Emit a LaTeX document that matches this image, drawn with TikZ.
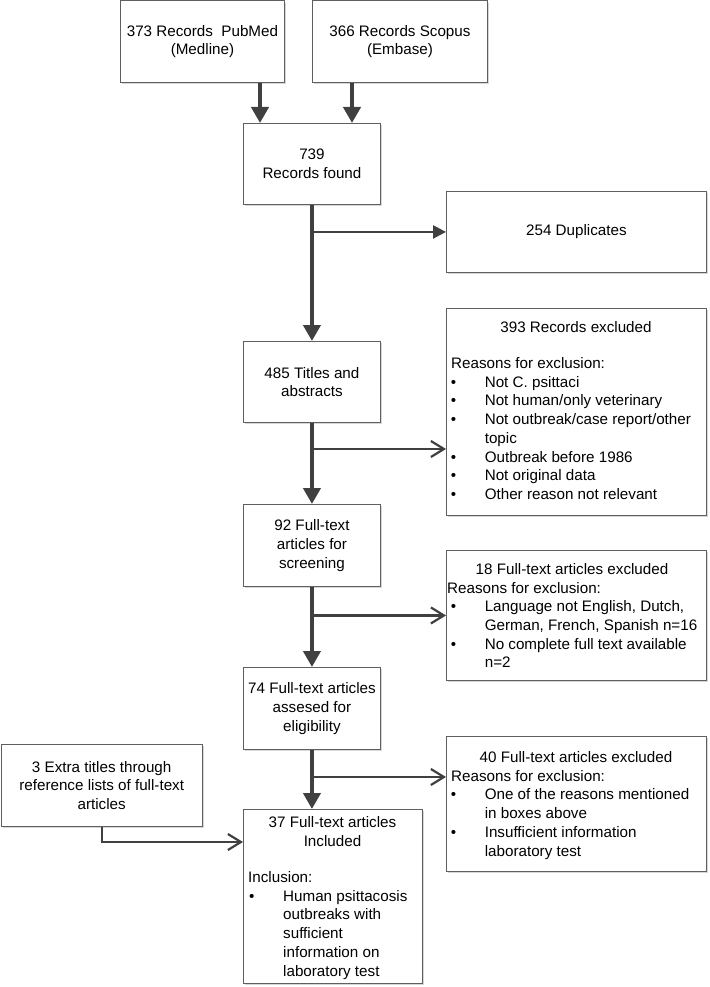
\documentclass[tikz,border=0pt]{standalone}
\usepackage{fontspec}
\setmainfont{Liberation Sans}
\usetikzlibrary{arrows.meta,shadows}
\definecolor{boxline}{HTML}{5F5F5F}
\definecolor{arrowc}{HTML}{404040}
\newcommand\bulmark{\makebox[34pt][l]{\textbullet}}
\begin{document}
\begin{tikzpicture}[x=1pt,y=-1pt,
  font=\fontsize{15.2}{18.7}\selectfont,
  box/.style={draw=boxline, line width=0.9pt, fill=white, inner sep=0pt,
    anchor=north west, align=center,
    drop shadow={shadow xshift=1.8pt, shadow yshift=-1.8pt, opacity=0.22, fill=black!70}},
  txt/.style={anchor=base west, inner sep=0pt},
  ctxt/.style={anchor=base, inner sep=0pt},
  thickarr/.style={draw=arrowc, line width=4.5pt, -{Triangle[width=17pt,length=16pt]}},
  duparr/.style={draw=arrowc, line width=2.4pt, -{Triangle[width=13pt,length=13pt]}},
  openarr/.style={draw=arrowc, line width=2.2pt, -{Straight Barb[width=16pt,length=13pt]}}]
\path[fill=white] (0,0) rectangle (709,987);
\useasboundingbox (0,0) rectangle (709,987);

% boxes
\node[box, minimum width=164pt, minimum height=81.5pt] (A) at (120,0.5) {373 Records \ PubMed\\(Medline)};
\node[box, minimum width=175pt, minimum height=81.5pt] (B) at (312,0.5) {366 Records Scopus\\(Embase)};
\node[box, minimum width=137pt, minimum height=81pt] (C) at (243,123) {739\\Records found};
\node[box, minimum width=260pt, minimum height=81pt] (Dup) at (446,191) {254 Duplicates};
\node[box, minimum width=137pt, minimum height=81pt] (T) at (243,341) {485 Titles and\\abstracts};
\node[box, minimum width=260pt, minimum height=207pt] (R) at (446,308) {};
\node[box, minimum width=137pt, minimum height=82pt] (S) at (243,504) {92 Full-text\\articles for\\screening};
\node[box, minimum width=260pt, minimum height=130pt] (E18) at (446,550) {};
\node[box, minimum width=137pt, minimum height=82pt] (F) at (243,667) {74 Full-text articles\\assesed for\\eligibility};
\node[box, minimum width=260pt, minimum height=135pt] (E40) at (446,736) {};
\node[box, minimum width=201.5pt, minimum height=82pt] (X) at (0.5,744) {3 Extra titles through\\reference lists of full-text\\articles};
\node[box, minimum width=179pt, minimum height=174pt] (I) at (243,809) {};

% 393 box text
\node[ctxt] (r0) at (576,332.5) {393 Records excluded};
\node[txt] (r1) at (451,368.5) {Reasons for exclusion:};
\node[txt] (r2) at (450.6,387.2) {\bulmark Not C. psittaci};
\node[txt] (r3) at (450.6,405.9) {\bulmark Not human/only veterinary};
\node[txt] (r4) at (450.6,424.6) {\bulmark Not outbreak/case report/other};
\node[txt] (r5) at (484.6,443.3) {topic};
\node[txt] (r6) at (450.6,462.0) {\bulmark Outbreak before 1986};
\node[txt] (r7) at (450.6,480.7) {\bulmark Not original data};
\node[txt] (r8) at (450.6,499.4) {\bulmark Other reason not relevant};

% 18 box text
\node[ctxt] (e0) at (572,574.5) {18 Full-text articles excluded};
\node[txt] (e1) at (447,593) {Reasons for exclusion:};
\node[txt] (e2) at (450.6,611.7) {\bulmark Language not English, Dutch,};
\node[txt] (e3) at (484.6,630.4) {German, French, Spanish n=16};
\node[txt] (e4) at (450.6,649.1) {\bulmark No complete full text available};
\node[txt] (e5) at (484.6,667.8) {n=2};

% 40 box text
\node[ctxt] (f0) at (576,762.5) {40 Full-text articles excluded};
\node[txt] (f1) at (451,781.2) {Reasons for exclusion:};
\node[txt] (f2) at (450.6,799.9) {\bulmark One of the reasons mentioned};
\node[txt] (f3) at (484.6,818.6) {in boxes above};
\node[txt] (f4) at (450.6,837.3) {\bulmark Insufficient information};
\node[txt] (f5) at (484.6,856.0) {laboratory test};

% 37 box text
\node[ctxt] (i0) at (332.5,827.5) {37 Full-text articles};
\node[ctxt] (i1) at (332.5,846.2) {Included};
\node[txt] (i2) at (248,882.5) {Inclusion:};
\node[txt] (i3) at (249,901.2) {\bulmark Human psittacosis};
\node[txt] (i4) at (283,919.9) {outbreaks with};
\node[txt] (i5) at (283,938.6) {sufficient};
\node[txt] (i6) at (283,957.3) {information on};
\node[txt] (i7) at (283,976.0) {laboratory test};

% helper coordinates
\coordinate (xa) at (260,0);
\coordinate (xb) at (352,0);
\coordinate (b2) at (0,449);
\coordinate (b4) at (0,777);
\coordinate (b5) at (0,842);

% connectors
\draw[thickarr] (A.south -| xa) -- (C.north -| xa);
\draw[thickarr] (B.south -| xb) -- (C.north -| xb);
\draw[thickarr] (C.south) -- (T.north);
\draw[duparr] (C.south |- Dup.west) -- (Dup.west);
\draw[thickarr] (T.south) -- (S.north);
\draw[openarr] (T.south |- b2) -- (R.west |- b2);
\draw[thickarr] (S.south) -- (F.north);
\draw[openarr] (S.south |- E18.west) -- (E18.west);
\draw[thickarr] (F.south) -- (F.south |- I.north);
\draw[openarr] (F.south |- b4) -- (E40.west |- b4);
\draw[openarr] (X.south) -- (X.south |- b5) -- (I.west |- b5);
\end{tikzpicture}
\end{document}
